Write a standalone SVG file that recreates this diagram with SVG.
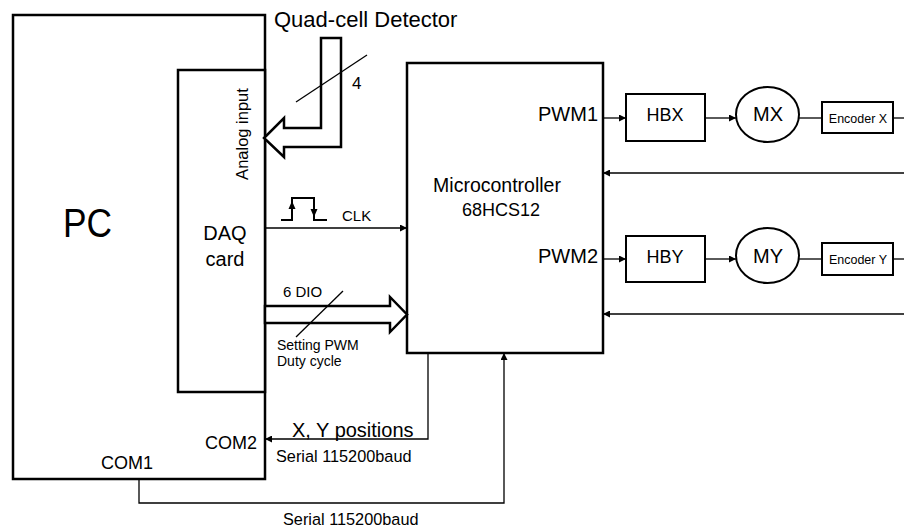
<svg xmlns="http://www.w3.org/2000/svg" width="904" height="528" viewBox="0 0 904 528">
<defs>
<marker id="ah" viewBox="0 0 10 10" refX="10" refY="5" markerWidth="8" markerHeight="7" markerUnits="userSpaceOnUse" orient="auto">
<path d="M0,0 L10,5 L0,10 z" fill="#000"/>
</marker>
</defs>
<style>
text{font-family:"Liberation Sans",Arial,sans-serif;fill:#000}
.box{fill:#fff;stroke:#000;stroke-width:2.5}
.nb{fill:#fff;stroke:#000;stroke-width:2}
.ln{fill:none;stroke:#000;stroke-width:1.3}
.arr{fill:none;stroke:#000;stroke-width:1.3;marker-end:url(#ah)}
.fat{fill:#fff;stroke:#000;stroke-width:2.5;stroke-linejoin:miter}
</style>
<rect width="904" height="528" fill="#fff"/>

<g id="pc">
<rect class="box" x="13" y="15" width="252" height="464"/>
<text x="63" y="237" font-size="40" textLength="49" lengthAdjust="spacingAndGlyphs">PC</text>
<text x="101" y="469" font-size="18">COM1</text>
<text x="257" y="449" font-size="18" text-anchor="end">COM2</text>
</g>

<g id="daq">
<rect class="box" x="178" y="70" width="87" height="322"/>
<text x="225" y="240" font-size="20" text-anchor="middle">DAQ</text>
<text x="225" y="266" font-size="20" text-anchor="middle">card</text>
<text transform="translate(248,134) rotate(-90)" font-size="16.5" text-anchor="middle">Analog input</text>
</g>

<g id="detector">
<text x="274" y="27" font-size="22">Quad-cell Detector</text>
<polygon class="fat" points="321,38 341,38 341,147 284,147 284,157 264,138 284,118 284,128 321,128"/>
<line class="ln" x1="296" y1="102" x2="367" y2="55"/>
<text x="352" y="89" font-size="17">4</text>
</g>

<g id="micro">
<rect class="box" x="407" y="63" width="196" height="290"/>
<text x="497" y="192" font-size="19.5" text-anchor="middle">Microcontroller</text>
<text x="501" y="216" font-size="18" text-anchor="middle">68HCS12</text>
<text x="598" y="121" font-size="20" text-anchor="end">PWM1</text>
<text x="598" y="263" font-size="20" text-anchor="end">PWM2</text>
</g>

<g id="hbx">
<rect class="nb" x="626" y="94" width="79" height="47"/>
<text x="665" y="121" font-size="18" text-anchor="middle">HBX</text>
</g>
<g id="mx">
<ellipse class="nb" cx="767.5" cy="114.5" rx="31.5" ry="27.5"/>
<text x="768" y="121" font-size="20" text-anchor="middle">MX</text>
</g>
<g id="encx">
<rect class="nb" x="822" y="102" width="71" height="31"/>
<text x="858" y="123" font-size="12.5" text-anchor="middle">Encoder X</text>
</g>

<g id="hby">
<rect class="nb" x="626" y="236" width="79" height="46"/>
<text x="665" y="263" font-size="18" text-anchor="middle">HBY</text>
</g>
<g id="my">
<ellipse class="nb" cx="767.5" cy="255.5" rx="31.5" ry="27.5"/>
<text x="768" y="263" font-size="20" text-anchor="middle">MY</text>
</g>
<g id="ency">
<rect class="nb" x="822" y="243" width="71" height="32"/>
<text x="858" y="264" font-size="12.5" text-anchor="middle">Encoder Y</text>
</g>

<g id="connectors">
<!-- CLK -->
<path d="M281,220 H292 V198 H314 V220 H327" fill="none" stroke="#000" stroke-width="2"/>
<polygon points="292,201 288.5,209 295.5,209" fill="#000"/>
<polygon points="314,217 310.5,209 317.5,209" fill="#000"/>
<text x="342" y="221" font-size="15">CLK</text>
<line class="arr" x1="265" y1="228" x2="407" y2="228"/>

<!-- 6 DIO -->
<text x="283" y="297" font-size="15">6 DIO</text>
<polygon class="fat" points="265,306 390,306 390,297 407,314.5 390,332 390,323 265,323"/>
<line class="ln" x1="343" y1="291" x2="296" y2="337"/>
<text x="277" y="350" font-size="14">Setting PWM</text>
<text x="277" y="366" font-size="14">Duty cycle</text>

<!-- row X -->
<line class="arr" x1="603" y1="118" x2="626" y2="118"/>
<line class="arr" x1="705" y1="118" x2="736" y2="118"/>
<line class="ln" x1="799" y1="118" x2="822" y2="118"/>
<line class="ln" x1="893" y1="118" x2="904" y2="118"/>
<line class="arr" x1="904" y1="173" x2="603" y2="173"/>

<!-- row Y -->
<line class="arr" x1="603" y1="259" x2="626" y2="259"/>
<line class="arr" x1="705" y1="259" x2="736" y2="259"/>
<line class="ln" x1="799" y1="259" x2="822" y2="259"/>
<line class="ln" x1="893" y1="259" x2="904" y2="259"/>
<line class="arr" x1="904" y1="314" x2="603" y2="314"/>

<!-- X,Y positions -->
<polyline class="arr" points="428,353 428,439 265,439"/>
<text x="292" y="437" font-size="20">X, Y positions</text>
<text x="276" y="462" font-size="16.3">Serial 115200baud</text>

<!-- COM1 -->
<polyline class="arr" points="139,479 139,503 504,503 504,353"/>
<text x="283" y="525" font-size="16.3">Serial 115200baud</text>
</g>
</svg>
